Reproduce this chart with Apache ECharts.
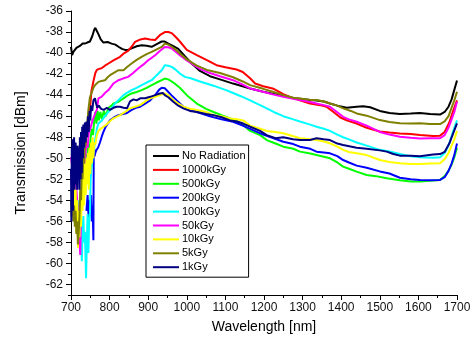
<!DOCTYPE html>
<html>
<head>
<meta charset="utf-8">
<script src="https://cdn.jsdelivr.net/npm/echarts@6/dist/echarts.min.js"></script>
<style>
html,body{margin:0;padding:0;background:#fff;}
#chart{width:475px;height:344px;}
</style>
</head>
<body>
<div id="chart"></div>
<script>
// Legend names
const seriesNames = ['No Radiation','1000kGy','500kGy','200kGy','100kGy','50kGy','10kGy','5kGy','1kGy'];
const seriesColors = ['#000000','#ff0000','#00ff00','#0000ff','#00ffff','#ff00ff','#ffff00','#808000','#000080'];

// [wavelength nm, transmission dBm]
const noRadiation = [[700,-39.4],[703,-40.2],[706,-39.9],[710,-39.7],[714,-39.5],[719,-39.4],[724,-39.3],[730,-39.1],[736,-39.1],[742,-39.0],[749,-38.9],[755,-38.4],[760,-37.8],[763,-37.6],[767,-37.9],[771,-38.2],[777,-38.7],[784,-39.0],[795,-38.95],[805,-39.1],[815,-39.2],[823,-39.4],[832,-39.6],[840,-39.7],[848,-39.7],[857,-39.55],[870,-39.35],[883,-39.25],[896,-39.3],[909,-39.4],[922,-39.15],[935,-38.9],[943,-38.9],[952,-39.1],[965,-39.35],[978,-39.6],[995,-40.3],[1010,-40.9],[1034,-41.7],[1060,-42.2],[1086,-42.5],[1120,-42.9],[1140,-43.1],[1164,-43.36],[1198,-43.68],[1225,-43.9],[1250,-44.0],[1276,-44.3],[1293,-44.35],[1320,-44.45],[1336,-44.5],[1355,-44.6],[1371,-44.79],[1390,-45.0],[1414,-45.2],[1440,-45.1],[1457,-45.05],[1475,-45.15],[1500,-45.5],[1525,-45.7],[1552,-45.8],[1580,-45.75],[1604,-45.7],[1630,-45.8],[1656,-45.85],[1668,-45.6],[1678,-45.1],[1686,-44.4],[1693,-43.5],[1700,-42.6]];

const kGy1000 = [[735,-48.0],[740,-47.4],[745,-46.5],[749,-45.4],[753,-43.6],[758,-42.7],[763,-41.9],[767,-41.6],[773,-41.5],[779,-41.45],[788,-41.2],[797,-40.99],[810,-40.7],[827,-40.36],[838,-40.0],[848,-39.79],[857,-39.4],[866,-38.94],[880,-38.7],[892,-38.62],[905,-38.7],[918,-38.75],[930,-38.3],[943,-38.0],[952,-38.0],[961,-38.1],[972,-38.5],[982,-38.9],[1000,-39.7],[1026,-40.2],[1052,-40.68],[1077,-41.15],[1100,-41.35],[1129,-41.56],[1145,-41.8],[1164,-42.4],[1177,-42.89],[1198,-43.15],[1225,-43.4],[1250,-43.9],[1267,-44.16],[1293,-44.5],[1319,-44.8],[1345,-44.95],[1362,-45.1],[1380,-45.6],[1397,-46.1],[1414,-46.4],[1440,-46.7],[1466,-47.1],[1500,-47.45],[1525,-47.55],[1552,-47.65],[1580,-47.7],[1604,-47.79],[1638,-47.89],[1656,-47.85],[1668,-47.5],[1680,-46.6],[1690,-45.5],[1700,-44.5]];

const kGy500 = [[728,-52],[731,-50.5],[734,-51.5],[736,-50.3],[739,-49.6],[742,-49.8],[745,-48.6],[748,-49.2],[751,-48],[754,-47.2],[757,-47.8],[760,-46.5],[763,-45.6],[766,-46.7],[769,-45.5],[772,-46.4],[776,-45.6],[780,-46.3],[785,-45.5],[790,-46.0],[797,-45.2],[805,-45.0],[810,-44.79],[823,-44.63],[836,-44.31],[846,-44.05],[857,-43.84],[870,-43.7],[883,-43.52],[896,-43.3],[909,-43.05],[922,-42.8],[935,-42.58],[943,-42.42],[952,-42.5],[965,-42.8],[982,-43.3],[1000,-44.0],[1026,-44.8],[1050,-45.3],[1069,-45.6],[1090,-45.9],[1112,-46.21],[1130,-46.5],[1146,-46.84],[1164,-47.4],[1190,-47.8],[1207,-48.27],[1230,-48.6],[1250,-48.9],[1276,-49.1],[1293,-49.37],[1320,-49.55],[1336,-49.69],[1355,-49.85],[1371,-50.0],[1390,-50.4],[1405,-50.8],[1420,-51.0],[1440,-51.27],[1466,-51.59],[1490,-51.7],[1518,-51.9],[1552,-52.1],[1580,-52.2],[1604,-52.22],[1630,-52.15],[1656,-52.06],[1668,-51.7],[1678,-51.2],[1686,-50.6],[1693,-49.9],[1700,-49.0]];

const kGy200 = [[740,-55],[743,-53.5],[746,-56],[748,-54],[750,-55.5],[752,-53.5],[754,-56],[756,-54.5],[758,-57.8],[759,-48.5],[761,-49.8],[763,-49.5],[766,-49.2],[770,-49.0],[775,-48.5],[780,-47.9],[784,-47.5],[790,-47.0],[801,-46.4],[812,-46.1],[823,-45.9],[835,-45.8],[845,-45.7],[857,-45.4],[868,-45.2],[879,-45.1],[892,-44.8],[905,-44.5],[918,-44.0],[928,-43.5],[935,-43.3],[943,-43.35],[948,-43.5],[960,-44.0],[974,-44.5],[991,-45.1],[1010,-45.4],[1034,-45.7],[1060,-46.0],[1090,-46.3],[1120,-46.53],[1145,-46.9],[1164,-47.2],[1198,-47.75],[1225,-48.1],[1250,-48.43],[1276,-48.65],[1293,-48.9],[1320,-49.1],[1336,-49.37],[1355,-49.45],[1371,-49.53],[1390,-49.8],[1405,-50.17],[1420,-50.4],[1440,-50.7],[1466,-50.9],[1500,-51.25],[1525,-51.45],[1552,-51.85],[1580,-52.0],[1604,-52.06],[1630,-52.1],[1656,-52.06],[1668,-51.8],[1678,-51.2],[1686,-50.5],[1693,-49.7],[1700,-48.6]];

const kGy100 = [[718,-54],[720,-56],[722,-55],[724,-57.5],[726,-56],[728,-59.8],[730,-57],[732,-55.5],[734,-58],[736,-57],[739,-61.4],[741,-58],[743,-55.3],[745,-59],[747,-56],[749,-55.5],[751,-52],[753,-51],[756,-50],[758,-49.5],[760,-49],[763,-48.2],[767,-47.2],[771,-46.7],[775,-46.7],[780,-46.4],[788,-46.0],[797,-45.6],[805,-45.26],[814,-44.8],[823,-44.47],[836,-44.0],[846,-43.75],[857,-43.52],[870,-43.3],[883,-43.05],[896,-42.8],[909,-42.58],[922,-42.1],[935,-41.63],[943,-41.15],[952,-41.2],[961,-41.31],[972,-41.6],[982,-41.94],[995,-42.26],[1010,-42.4],[1034,-42.7],[1069,-43.1],[1100,-43.5],[1120,-43.8],[1140,-44.1],[1164,-44.5],[1198,-45.1],[1225,-45.6],[1250,-46.0],[1276,-46.3],[1293,-46.5],[1320,-46.8],[1336,-47.0],[1355,-47.2],[1371,-47.4],[1390,-47.75],[1405,-48.0],[1420,-48.2],[1440,-48.5],[1466,-48.8],[1500,-49.2],[1525,-49.35],[1552,-49.6],[1580,-49.8],[1604,-49.9],[1638,-49.95],[1656,-49.9],[1668,-49.5],[1678,-48.8],[1686,-47.9],[1693,-47.1],[1700,-46.4]];

const kGy50 = [[700,-49.9],[704,-51],[708,-50.5],[712,-52],[716,-54],[720,-56],[722,-57.8],[724,-59.2],[726,-55],[728,-53],[731,-51.1],[734,-52],[737,-49.9],[740,-48.5],[743,-49],[746,-47.6],[750,-47.2],[755,-46.5],[760,-46.0],[764,-45.6],[767,-45.4],[771,-44.31],[779,-44.16],[788,-43.8],[797,-43.52],[810,-42.89],[823,-42.58],[836,-42.4],[848,-42.26],[861,-41.9],[874,-41.47],[887,-41.1],[900,-40.68],[909,-40.45],[918,-40.2],[930,-39.8],[943,-39.42],[952,-39.45],[961,-39.57],[972,-39.9],[982,-40.2],[1000,-40.7],[1034,-41.5],[1060,-41.9],[1086,-42.2],[1120,-42.58],[1145,-43.0],[1164,-43.36],[1198,-43.68],[1225,-43.95],[1250,-44.16],[1276,-44.35],[1293,-44.47],[1320,-44.65],[1336,-44.79],[1355,-44.95],[1371,-45.1],[1388,-45.58],[1405,-46.06],[1420,-46.3],[1440,-46.53],[1466,-46.9],[1500,-47.5],[1525,-47.75],[1552,-47.95],[1580,-48.05],[1604,-48.11],[1630,-48.1],[1656,-48.1],[1668,-47.8],[1678,-47.1],[1686,-46.3],[1693,-45.6],[1700,-44.63]];

const kGy10 = [[702,-53],[704,-51],[706,-55],[708,-52],[710,-56],[712,-53],[714,-57],[716,-54],[718,-58.5],[720,-55],[722,-57.5],[724,-53],[726,-56.5],[728,-52],[730,-55],[732,-51],[734,-54.5],[736,-50.5],[738,-53.5],[740,-50],[742,-52.5],[744,-49.5],[746,-53],[748,-49],[750,-51.5],[752,-48.5],[754,-50.5],[756,-48],[758,-50],[760,-48.5],[763,-48.7],[767,-47.8],[771,-47.4],[777,-47.2],[784,-47.0],[792,-46.8],[800,-46.5],[810,-46.2],[827,-45.9],[840,-45.6],[853,-45.26],[866,-45.1],[879,-44.95],[892,-44.6],[905,-44.31],[918,-44.15],[930,-44.0],[943,-43.84],[952,-44.0],[965,-44.47],[978,-44.8],[991,-45.1],[1008,-45.3],[1026,-45.42],[1050,-45.6],[1069,-45.9],[1090,-46.0],[1112,-46.21],[1130,-46.3],[1146,-46.4],[1164,-46.9],[1190,-47.2],[1207,-47.4],[1230,-47.5],[1250,-47.63],[1276,-47.9],[1293,-48.1],[1320,-48.2],[1336,-48.27],[1355,-48.4],[1371,-48.58],[1390,-48.9],[1405,-49.2],[1420,-49.4],[1440,-49.53],[1466,-49.7],[1500,-50.17],[1525,-50.35],[1552,-50.48],[1580,-50.55],[1604,-50.55],[1630,-50.5],[1656,-50.48],[1668,-50.1],[1678,-49.5],[1686,-48.8],[1693,-48.2],[1700,-47.4]];

const kGy5 = [[700,-54.0],[702,-55.5],[704,-53.5],[706,-56],[708,-54.5],[710,-56.5],[712,-55],[714,-57.2],[716,-56],[718,-58.2],[720,-57],[722,-55.5],[724,-53],[726,-54],[728,-51],[730,-52],[732,-49.5],[734,-50.5],[736,-48.3],[738,-48.8],[741,-47.2],[745,-45.4],[749,-44.2],[753,-43.8],[758,-43.3],[762,-43.05],[766,-42.9],[771,-42.74],[779,-42.65],[788,-42.58],[795,-42.3],[801,-42.1],[810,-41.9],[823,-41.63],[836,-41.63],[846,-41.3],[857,-40.99],[870,-40.65],[883,-40.36],[896,-40.1],[909,-39.89],[922,-39.65],[935,-39.42],[943,-39.1],[952,-39.2],[961,-39.4],[972,-39.7],[982,-40.04],[1000,-40.6],[1026,-41.2],[1052,-41.6],[1086,-41.9],[1120,-42.3],[1145,-42.7],[1164,-43.05],[1198,-43.4],[1225,-43.7],[1250,-44.0],[1276,-44.25],[1293,-44.31],[1320,-44.45],[1336,-44.47],[1355,-44.6],[1371,-44.79],[1390,-45.0],[1405,-45.26],[1425,-45.5],[1440,-45.74],[1466,-45.95],[1500,-46.37],[1525,-46.55],[1552,-46.68],[1580,-46.7],[1604,-46.68],[1630,-46.75],[1656,-46.75],[1668,-46.5],[1678,-46.0],[1686,-45.2],[1693,-44.5],[1700,-43.68]];

const kGy1 = [[700,-51],[701,-56],[702,-49],[703,-53],[704,-48.2],[705,-55],[706,-49],[707,-52],[708,-48],[709,-53],[710,-49.5],[711,-51.5],[712,-48.5],[713,-52.5],[714,-49],[716,-53],[717,-48.8],[719,-51],[720,-49],[722,-53],[723,-48],[725,-52],[726,-47.5],[728,-51.4],[729,-47],[731,-50],[732,-46.8],[734,-49],[736,-46.6],[738,-48.5],[740,-46.5],[742,-48],[744,-46],[746,-47.5],[748,-45.5],[750,-46.4],[752,-45],[755,-45.5],[758,-44.5],[762,-44.3],[765,-44.8],[768,-45.2],[772,-45],[778,-45.3],[785,-45.4],[793,-45.2],[801,-45.4],[810,-45.2],[818,-45.1],[827,-45.1],[836,-45.2],[845,-45.25],[853,-44.6],[862,-44.4],[870,-44.5],[879,-44.3],[892,-44.3],[905,-44.16],[918,-44.0],[930,-43.84],[938,-43.8],[943,-44.0],[952,-44.2],[965,-44.63],[978,-45.0],[991,-45.26],[1008,-45.5],[1026,-45.6],[1050,-45.8],[1069,-45.9],[1090,-46.1],[1112,-46.4],[1130,-46.5],[1146,-46.7],[1164,-47.0],[1190,-47.4],[1207,-47.8],[1230,-48.1],[1250,-48.0],[1275,-48.2],[1293,-48.27],[1319,-48.27],[1336,-48.1],[1355,-48.2],[1371,-48.27],[1390,-48.6],[1405,-48.74],[1440,-49.0],[1466,-49.1],[1500,-49.25],[1518,-49.37],[1535,-49.6],[1552,-49.75],[1580,-49.75],[1604,-49.8],[1638,-49.65],[1656,-49.6],[1668,-49.4],[1680,-48.6],[1690,-47.63],[1700,-46.68]];

const seriesData = [noRadiation, kGy1000, kGy500, kGy200, kGy100, kGy50, kGy10, kGy5, kGy1];

const xMin = 700, xMax = 1700, xStep = 100;
const yMin = -63, yMax = -36;

const font = 'Liberation Sans, Arial, sans-serif';
const chart = echarts.init(document.getElementById('chart'), null, {renderer: 'canvas'});

chart.setOption({
  animation: false,
  backgroundColor: '#ffffff',
  grid: {left: 71, right: 18, top: 11, bottom: 49},
  legend: {
    data: seriesNames,
    orient: 'vertical',
    left: 146, top: 145,
    icon: 'rect',
    itemWidth: 26, itemHeight: 2,
    itemGap: 1.9,
    padding: [5, 3, 4, 7],
    borderColor: '#000', borderWidth: 1,
    backgroundColor: '#fff',
    textStyle: {fontFamily: font, fontSize: 11, color: '#000', lineHeight: 12, padding: [0,0,0,-2]},
    selectedMode: false
  },
  xAxis: {
    type: 'value', min: xMin, max: xMax, interval: xStep,
    name: 'Wavelength [nm]', nameLocation: 'middle', nameGap: 25,
    nameTextStyle: {fontFamily: font, fontSize: 14, color: '#000'},
    axisLine: {show: true, lineStyle: {color: '#000', width: 1}},
    axisTick: {show: true, length: 5, lineStyle: {color: '#000'}},
    minorTick: {show: true, splitNumber: 2, length: 3, lineStyle: {color: '#000'}},
    axisLabel: {fontFamily: font, fontSize: 12, color: '#111', margin: 7, formatter: v => String(v)},
    splitLine: {show: false}
  },
  yAxis: [{
    type: 'value', min: yMin, max: yMax, splitNumber: 13, position: 'left',
    name: 'Transmission [dBm]', nameLocation: 'middle', nameGap: 43,
    nameTextStyle: {fontFamily: font, fontSize: 14, color: '#000'},
    axisLine: {show: true, lineStyle: {color: '#000', width: 1}},
    axisTick: {show: true, length: 5, lineStyle: {color: '#000'}},
    axisLabel: {fontFamily: font, fontSize: 12, color: '#111', margin: 8, showMinLabel: false,
      formatter: v => (Math.round(v) % 2 === 0 ? String(v) : '')},
    splitLine: {show: false}
  }, {
    type: 'value', min: yMin, max: yMax, interval: 1, position: 'left', offset: 0,
    axisLine: {show: false},
    axisTick: {show: true, length: 3, lineStyle: {color: '#000'}},
    axisLabel: {show: false},
    splitLine: {show: false}
  }],
  series: seriesNames.map((name, i) => ({
    name: name,
    type: 'line',
    yAxisIndex: 0,
    data: seriesData[i],
    showSymbol: false,
    symbol: 'none',
    color: seriesColors[i],
    lineStyle: {width: 2, color: seriesColors[i]},
    itemStyle: {color: seriesColors[i]},
    z: 2 + i
  }))
});
</script>
</body>
</html>
